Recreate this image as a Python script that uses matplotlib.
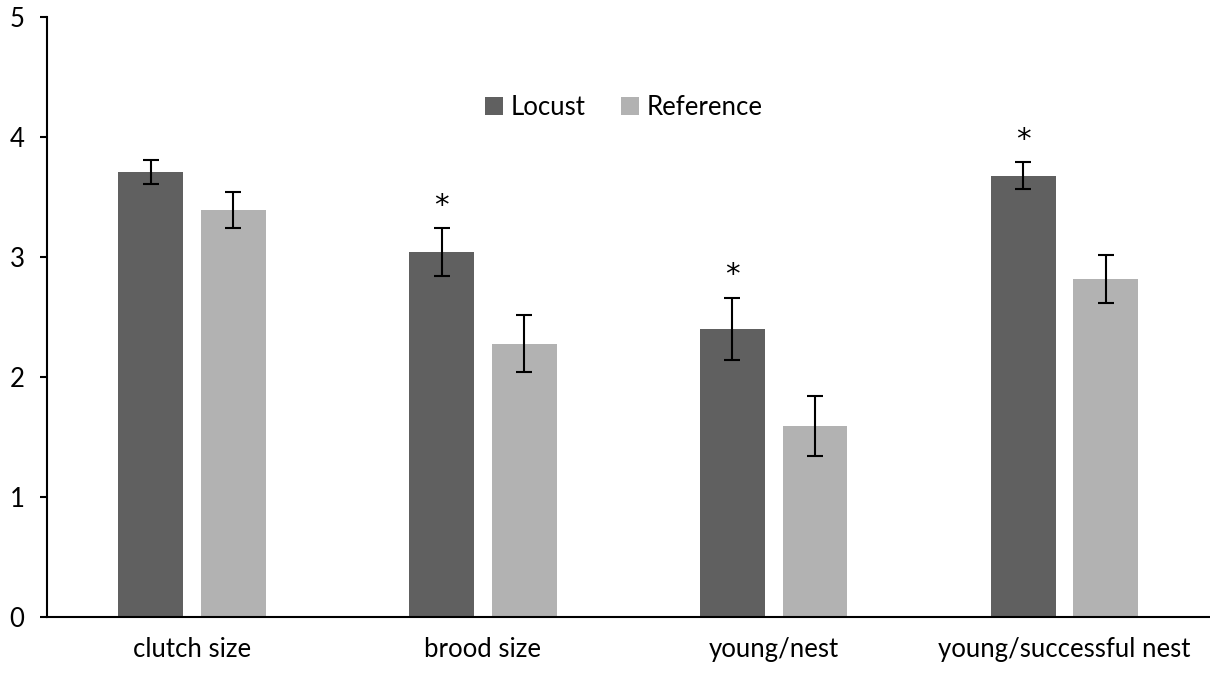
import matplotlib
matplotlib.use("Agg")
import matplotlib.pyplot as plt
import numpy as np

categories = ["clutch size", "brood size", "young/nest", "young/successful nest"]
locust = [3.71, 3.04, 2.40, 3.68]
locust_err_lo = [0.10, 0.20, 0.26, 0.11]
locust_err_hi = [0.10, 0.20, 0.26, 0.11]
reference = [3.39, 2.28, 1.59, 2.82]
reference_err = [0.15, 0.24, 0.25, 0.20]
significant = [False, True, True, True]
yticks = [0, 1, 2, 3, 4, 5]

plt.rcParams['font.family'] = ['Lato', 'DejaVu Sans']

fig = plt.figure(figsize=(12.10, 6.73), dpi=100)
ax = fig.add_axes([0.0386, 0.0828, 0.9614, 0.8915])

x = np.arange(len(categories))
w = 0.223
off = 0.142
c_loc = "#606060"
c_ref = "#B2B2B2"
ekw = dict(ecolor="black", elinewidth=1.5, capsize=5.5, capthick=1.5)

ax.bar(x - off, locust, w, color=c_loc, label="Locust",
       yerr=[locust_err_lo, locust_err_hi], error_kw=ekw, zorder=2)
ax.bar(x + off, reference, w, color=c_ref, label="Reference",
       yerr=reference_err, error_kw=ekw, zorder=2)

for i, s in enumerate(significant):
    if s:
        ax.text(x[i] - off, locust[i] + locust_err_hi[i] + 0.19, "*",
                ha="center", va="center", fontsize=21, color="black",
                family="DejaVu Sans")

ax.set_xlim(-0.5, len(categories) - 0.5)
ax.set_ylim(0, 5)
ax.set_yticks(yticks)
ax.set_yticklabels([str(t) for t in yticks], fontsize=18.5)
ax.set_xticks(x)
ax.set_xticklabels(categories, fontsize=18.5)
ax.tick_params(axis="x", length=0, pad=14)
ax.tick_params(axis="y", length=5, width=1.5, direction="out", pad=11)

for side in ["top", "right"]:
    ax.spines[side].set_visible(False)
ax.spines["left"].set_linewidth(1.5)
ax.spines["bottom"].set_linewidth(1.5)

ax.legend(loc="center", bbox_to_anchor=(0.496, 0.85), ncol=2, frameon=False,
          fontsize=18.5, handlelength=0.68, handleheight=0.68, handletextpad=0.3,
          columnspacing=1.4)

fig.savefig("out.png", dpi=100)
